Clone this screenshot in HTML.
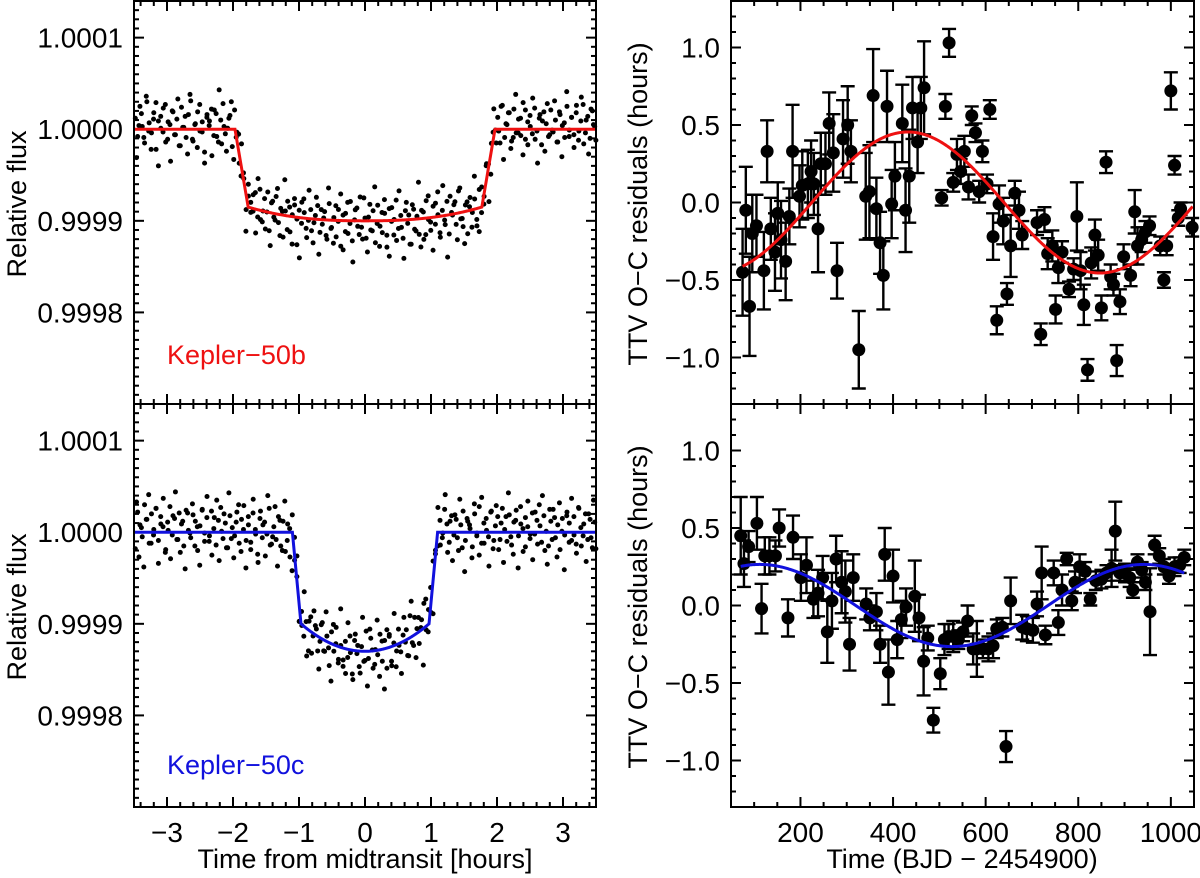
<!DOCTYPE html>
<html><head><meta charset="utf-8"><style>
html,body{margin:0;padding:0;background:#fff;}
svg{display:block;font-family:"Liberation Sans",Arial,sans-serif;}
</style></head><body>
<svg id="fig" width="1200" height="878" viewBox="0 0 1200 878" xmlns="http://www.w3.org/2000/svg"></svg>
<script>
// ---- Transit residual noise (ppm) around model, Kepler-50b and Kepler-50c (two interleaved sets) ----
const residB = [12,-8,25,3,-15,30,7,-4,18,-22,9,14,-3,27,-11,5,20,-6,11,-18,24,2,-9,16,31,-13,6,19,-2,8,
-25,13,4,22,-7,17,-14,10,28,-5,1,15,-19,21,9,-10,26,3,-16,12,6,-3,18,-8,23,-12,14,0,-20,11,
-4,19,-9,7,-24,5,16,-17,2,13,-30,8,-6,21,-11,-2,10,-26,4,15,-14,-5,9,-21,18,-8,3,-18,12,-28,
6,-12,20,-3,-22,1,14,-15,-7,25,-19,4,-10,11,-24,17,-6,-13,8,-29,13,-1,-16,22,-9,5,-20,10,-4,-27,
16,-11,3,-17,9,-23,19,-2,-14,12,-8,27,-18,6,-5,15,-21,2,10,-12,24,-7,-16,7,-25,14,-3,11,-19,20,
-6,-10,17,4,-22,9,-1,13,-15,26,-9,5,18,-13,22,-4,11,-7,29,-11,8,15,-5,23,-2,12,-17,19,6,-8,
21,-3,10,-14,16,4,-9,25,-1,13,-6,18,-12,9,27,-4,14,-10,20,3];
const residB2 = [-31,4,17,-9,36,-2,-22,11,29,-40,1,23,-14,8,-35,19,-6,33,-18,2,14,-27,38,-11,5,-20,27,-3,-37,16,
9,-29,21,-8,43,-16,3,-24,12,30,-33,-1,18,-12,7,-41,25,-5,15,-26,34,-10,0,-19,22,-36,13,-7,28,-23,
4,39,-15,10,-30,20,-2,-44,17,6,-21,31,-13,-4,24,-38,11,2,-17,35,-9,-25,16,-1,29,-32,8,-14,21,-45,
12,-6,26,-20,3,-34,18,-11,37,-3,-28,9,23,-16,-39,14,1,-22,32,-8,-42,19,5,-27,11,-13,40,-31,7,-18,
24,-5,-36,15,2,-23,33,-10,-46,20,-1,13,-29,27,-7,-35,10,4,-19,36,-12,-26,22,-3,17,-40,8,30,-15,-2,
25,-33,6,18,-21,-9,38,-4,12,-28,21,-17,3,34,-11,-37,16,9,-24,28,-6,-1,31,-14,19,-30,7,41,-8,13,
-20,26,-2,35,-16,10,-27,22,5,-12];
const residC = [-18,22,8,-5,30,14,-12,20,3,26,-9,17,6,-22,11,28,-3,15,-8,21,9,-15,24,2,-6,19,12,-20,7,25,
-1,16,-10,23,4,-14,13,27,-7,10,-17,18,5,-4,22,-12,14,29,-9,8,-19,21,3,-24,15,-6,11,-2,26,-13,
6,-8,17,-15,12,-21,9,-27,19,-5,4,-18,14,-11,7,-23,16,-3,10,-16,-4,18,-12,6,-25,13,-7,20,-14,2,
-20,8,-9,15,-26,11,-3,-17,5,-11,22,-8,14,-19,1,-5,17,-13,9,-22,12,-16,3,-24,16,-10,7,-2,-18,24,
-7,19,5,-13,11,27,-4,16,-8,21,2,-15,13,-6,25,9,-11,18,-3,14,-20,8,23,-9,12,4,-16,20,-1,28,
-12,10,15,-5,22,-18,7,17,-8,26,3,-10,19,-14,11,24,-4,9,-21,16,6,-7,21,-2,13,30,-11,18,1,-15,
12,25,-6,8,-19,15,-3,22,10,-9,17,-13,27,5,-4,20,-8,14,-17,11];
const residC2 = [33,-27,5,-38,14,41,-12,-3,26,-34,9,37,-19,2,-29,18,44,-8,-22,12,-40,21,-1,31,-15,6,-36,24,-10,39,
-4,-25,16,35,-31,1,20,-17,43,-7,-28,11,30,-21,3,-39,17,-11,36,-2,-33,23,8,-26,40,-14,-5,28,-37,13,
-20,34,-9,4,-42,19,27,-16,-1,38,-30,10,-23,25,7,-35,15,-12,32,-6,-41,22,2,-18,42,-13,-27,29,-3,-32,
18,6,-24,37,-10,-38,24,1,-15,33,-29,9,-44,20,14,-21,35,-7,-2,-34,26,11,-19,39,-11,-26,16,3,-40,30,
-8,21,-36,5,27,-14,-1,41,-22,12,-31,19,-6,36,-17,-43,15,8,-28,31,-4,-25,38,-12,2,-37,23,-9,29,-19,
10,-33,17,43,-5,-24,13,-39,28,4,-16,34,-2,-30,22,-13,7,40,-20,-35,25,-8,16,-27,32,1,-41,18,-11,37,
-3,-23,26,-15,9,-32,20,-6,35,-18];

// ---- TTV data: Kepler-50b ----
const ttvBTime = [75,82,90,96,105,121,128,136,145,151,158,168,176,183,198,204,216,223,229,238,244,254,262,271,279,292,302,309,326,341,349,357,364,372,379,387,397,404,420,427,435,442,453,460,467,505,513,521,530,538,546,554,563,570,578,586,593,603,609,616,624,629,638,646,654,663,672,679,711,719,727,734,744,751,757,765,780,790,797,805,812,820,828,836,843,850,860,870,876,883,890,898,913,922,928,937,945,954,977,985,991,1000,1008,1016,1021,1046];
const ttvBVal = [-0.45,-0.05,-0.67,-0.2,-0.15,-0.44,0.33,-0.17,-0.32,-0.07,-0.24,-0.38,-0.09,0.33,0.04,0.11,0.12,0.2,0.12,-0.17,0.25,0.25,0.51,0.32,-0.44,0.41,0.5,0.33,-0.95,0.04,0.07,0.69,-0.04,-0.26,-0.47,0.62,-0.01,0.17,0.51,-0.05,0.17,0.61,0.39,0.61,0.74,0.03,0.62,1.03,0.13,0.31,0.2,0.33,0.1,0.56,0.45,0.07,0.33,0.12,0.6,-0.22,-0.76,-0.01,-0.12,-0.59,-0.28,0.06,-0.05,-0.21,-0.13,-0.85,-0.11,-0.33,-0.28,-0.69,-0.42,-0.32,-0.56,-0.43,-0.09,-0.44,-0.66,-1.08,-0.39,-0.21,-0.34,-0.68,0.26,-0.48,-0.53,-1.02,-0.64,-0.35,-0.47,-0.06,-0.28,-0.24,-0.19,-0.15,-0.28,-0.5,-0.28,0.72,0.24,-0.1,-0.04,-0.16];
const ttvBErr = [0.28,0.28,0.32,0.25,0.2,0.25,0.2,0.2,0.25,0.2,0.25,0.25,0.18,0.3,0.2,0.22,0.22,0.2,0.2,0.28,0.2,0.2,0.2,0.25,0.18,0.25,0.25,0.2,0.25,0.28,0.3,0.3,0.2,0.2,0.22,0.23,0.22,0.22,0.25,0.27,0.3,0.2,0.2,0.2,0.3,0.05,0.08,0.09,0.06,0.1,0.08,0.1,0.08,0.06,0.06,0.07,0.07,0.06,0.06,0.15,0.09,0.12,0.15,0.07,0.2,0.08,0.12,0.09,0.08,0.07,0.08,0.1,0.1,0.09,0.1,0.07,0.05,0.07,0.22,0.12,0.13,0.07,0.1,0.1,0.1,0.08,0.07,0.08,0.07,0.1,0.08,0.08,0.07,0.14,0.12,0.08,0.07,0.06,0.06,0.05,0.06,0.12,0.06,0.05,0.04,0.06];

// ---- TTV data: Kepler-50c ----
const ttvCTime = [71,78,88,106,116,123,133,146,154,173,184,201,213,228,238,248,258,268,277,289,297,306,314,342,350,364,372,382,390,400,409,418,428,447,456,466,475,487,502,511,520,530,541,551,561,573,581,594,606,616,624,636,644,654,679,689,702,711,721,729,747,757,765,775,786,793,803,815,826,838,850,861,872,880,890,901,911,918,928,937,945,955,965,975,985,996,1008,1019,1029];
const ttvCVal = [0.45,0.27,0.38,0.53,-0.02,0.32,0.32,0.32,0.5,-0.08,0.44,0.18,0.26,0.04,0.08,0.18,-0.17,0.03,0.3,0.15,0.09,-0.25,0.18,0.01,-0.08,-0.04,-0.25,0.33,-0.43,0.19,-0.22,-0.09,-0.01,0.06,-0.08,-0.36,-0.21,-0.74,-0.44,-0.22,-0.2,-0.2,-0.22,-0.17,-0.1,-0.28,-0.28,-0.28,-0.28,-0.26,-0.15,-0.14,-0.91,0.03,-0.14,-0.15,-0.16,0.01,0.21,-0.19,0.21,-0.11,0.1,0.3,0.03,0.15,0.25,0.22,0.04,0.16,0.17,0.21,0.24,0.48,0.21,0.21,0.18,0.1,0.28,0.23,0.15,-0.04,0.39,0.32,0.25,0.19,0.25,0.26,0.31];
const ttvCErr = [0.25,0.15,0.1,0.17,0.16,0.12,0.12,0.1,0.12,0.12,0.14,0.15,0.18,0.12,0.15,0.14,0.2,0.18,0.15,0.2,0.2,0.17,0.15,0.1,0.08,0.12,0.12,0.17,0.21,0.17,0.12,0.12,0.12,0.23,0.15,0.22,0.08,0.08,0.1,0.1,0.08,0.1,0.06,0.06,0.1,0.1,0.18,0.06,0.08,0.08,0.06,0.06,0.1,0.15,0.08,0.08,0.08,0.08,0.17,0.06,0.08,0.08,0.1,0.04,0.06,0.07,0.08,0.06,0.04,0.06,0.06,0.05,0.12,0.19,0.05,0.06,0.06,0.05,0.05,0.05,0.05,0.28,0.06,0.05,0.05,0.05,0.06,0.05,0.05];

// ---- Tick labels ----
const fluxTicks = [1.0001, 1.0000, 0.9999, 0.9998];
const fluxTickLabels = ["1.0001","1.0000","0.9999","0.9998"];
const hourTicks = [-3,-2,-1,0,1,2,3];
const hourTickLabels = ["\u22123","\u22122","\u22121","0","1","2","3"];
const ttvTicks = [1.0,0.5,0.0,-0.5,-1.0];
const ttvTickLabels = ["1.0","0.5","0.0","\u22120.5","\u22121.0"];
const timeTicks = [200,400,600,800,1000];
const timeTickLabels = ["200","400","600","800","1000"];

const NS="http://www.w3.org/2000/svg";
const svg=document.getElementById('fig');
function el(tag,attrs,parent){const e=document.createElementNS(NS,tag);for(const k in attrs)e.setAttribute(k,attrs[k]);(parent||svg).appendChild(e);return e;}

const FS=28, TS=27;
const LX0=134,LX1=596,RX0=731,RX1=1194,TOP=[1,404],H=403;
const hx=t=>LX0+(t+3.5)/7*(LX1-LX0);
const fy=(v,p)=>TOP[p]+(1.00014-v)/0.00044*H;
const rx=t=>RX0+(t-50)/1000*(RX1-RX0);
const ry=(v,p)=>TOP[p]+(1.3-v)/2.6*H;

function frame(x0,x1,p,name){
  const r=el('rect',{x:x0,y:TOP[p],width:x1-x0,height:H,fill:'none',stroke:'#000','stroke-width':2});
  
  
}
function tick(x1,y1,x2,y2,g){el('line',{x1,y1,x2,y2,stroke:'#000','stroke-width':2},g);}

function leftPanel(p,resid,resid2,model,color,label){
  const g=el('g',{});
  
  
  for(let t=-3.4;t<=3.41;t+=0.2){const x=hx(t);const maj=Math.abs(t-Math.round(t))<1e-6;const L=maj?10:5;
    tick(x,TOP[p],x,TOP[p]+L,g);tick(x,TOP[p]+H,x,TOP[p]+H-L,g);}
  for(let k=-30;k<=14;k++){const v=1+k*0.00001;const y=fy(v,p);if(y<TOP[p]||y>TOP[p]+H)continue;const L=(k%10===0)?10:5;
    tick(LX0,y,LX0+L,y,g);tick(LX1,y,LX1-L,y,g);}
  fluxTicks.forEach((v,i)=>{const t=el('text',{x:123,y:fy(v,p)+10,'text-anchor':'end','font-size':FS},g);t.textContent=fluxTickLabels[i];
    });
  const sets=[[resid,0],[resid2,0.5]];
  sets.forEach(([arr,off])=>{const n=arr.length;const dt=6.96/(n-1);
    for(let i=0;i<n;i++){const t=-3.48+(i+off)*dt;if(t>3.5)continue;const v=model(t)+arr[i]*1e-6;
      const c=el('circle',{cx:hx(t),cy:fy(v,p),r:2.5,fill:'#000'},g);
      
      }});
  let d='';for(let i=0;i<=700;i++){const t=-3.5+i*0.01;d+=(i?'L':'M')+hx(t).toFixed(2)+' '+fy(model(t),p).toFixed(2);}
  const m=el('path',{d,fill:'none',stroke:color,'stroke-width':3},g);
  
  
  const lb=el('text',{x:167,y:p===0?364:774,'font-size':TS,fill:color},g);lb.textContent=label;
  
  
  const yl=el('text',{x:0,y:0,'font-size':TS,'text-anchor':'middle',transform:`translate(26,${TOP[p]+203}) rotate(-90)`},g);yl.textContent='Relative flux';
  
  
  frame(LX0,LX1,p,'plot-frame');
}
function modelB(t){const a=Math.abs(t);if(a>=1.97)return 1;const db=100-15*Math.pow(Math.min(a,1.77)/1.77,2.5);
  if(a<=1.77)return 1-db*1e-6;return 1-db*1e-6*(1.97-a)/0.2;}
function modelC(t){const a=Math.abs(t);if(a>=1.1)return 1;const db=130-30*Math.pow(Math.min(a,0.97)/0.97,2);
  if(a<=0.97)return 1-db*1e-6;return 1-db*1e-6*(1.1-a)/0.13;}
leftPanel(0,residB,residB2,modelB,'#ee1111','Kepler\u221250b');
leftPanel(1,residC,residC2,modelC,'#1111dd','Kepler\u221250c');
hourTicks.forEach((t,i)=>{const e=el('text',{x:hx(t),y:842,'text-anchor':'middle','font-size':FS});e.textContent=hourTickLabels[i];
  });
const xt1=el('text',{x:365,y:868,'text-anchor':'middle','font-size':TS});xt1.textContent='Time from midtransit [hours]';



function rightPanel(p,T,V,E,model,color,t0,t1){
  const g=el('g',{});
  
  
  for(let t=100;t<=1050;t+=50){const x=rx(t);const L=(t%200===0)?10:5;tick(x,TOP[p],x,TOP[p]+L,g);tick(x,TOP[p]+H,x,TOP[p]+H-L,g);}
  for(let k=-12;k<=12;k++){const y=ry(k/10,p);const L=(k%5===0)?10:5;tick(RX0,y,RX0+L,y,g);tick(RX1,y,RX1-L,y,g);}
  ttvTicks.forEach((v,i)=>{const t=el('text',{x:720,y:ry(v,p)+10,'text-anchor':'end','font-size':FS},g);t.textContent=ttvTickLabels[i];
    });
  for(let i=0;i<T.length;i++){const x=rx(T[i]),y=ry(V[i],p),y1=ry(V[i]+E[i],p),y2=ry(V[i]-E[i],p);
    const eb=el('path',{d:`M${x} ${y1}L${x} ${y2}M${x-7} ${y1}L${x+7} ${y1}M${x-7} ${y2}L${x+7} ${y2}`,stroke:'#000','stroke-width':2.4,fill:'none'},g);
    
    
    const c=el('circle',{cx:x,cy:y,r:6.5,fill:'#000'},g);
    
    }
  let d='';for(let t=t0,i=0;t<=t1;t+=2,i++){d+=(i?'L':'M')+rx(t).toFixed(2)+' '+ry(model(t),p).toFixed(2);}
  const m=el('path',{d,fill:'none',stroke:color,'stroke-width':3},g);
  
  
  const yl=el('text',{x:0,y:0,'font-size':TS,'text-anchor':'middle',transform:`translate(647,${TOP[p]+203}) rotate(-90)`},g);yl.textContent='TTV O\u2212C residuals (hours)';
  
  
  frame(RX0,RX1,p,'plot-frame');
}
rightPanel(0,ttvBTime,ttvBVal,ttvBErr,t=>0.455*Math.cos(2*Math.PI*(t-432)/830),'#ee1111',75,1048);
rightPanel(1,ttvCTime,ttvCVal,ttvCErr,t=>-0.265*Math.cos(2*Math.PI*(t-527)/830),'#1111dd',71,1029);
timeTicks.forEach((t,i)=>{const e=el('text',{x:rx(t),y:842,'text-anchor':'middle','font-size':FS});e.textContent=timeTickLabels[i];
  });
const xt2=el('text',{x:962,y:868,'text-anchor':'middle','font-size':TS});xt2.textContent='Time (BJD \u2212 2454900)';


</script>
</body></html>
